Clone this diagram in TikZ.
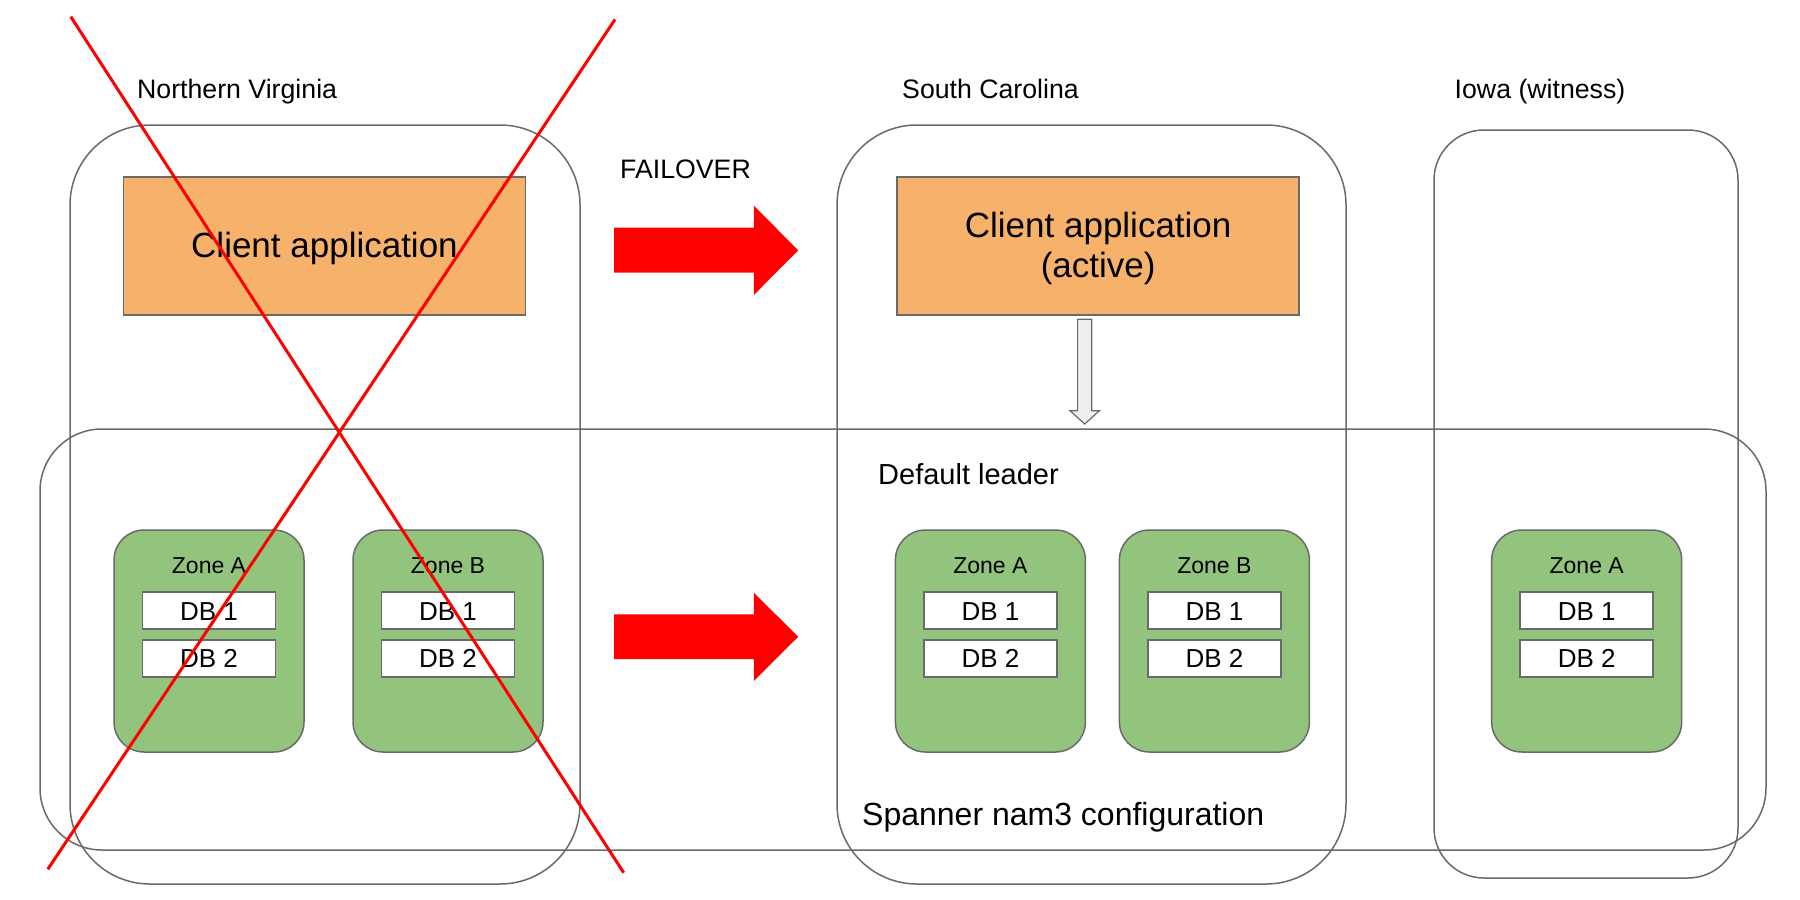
\documentclass[tikz,border=0pt]{standalone}
\usepackage{fontspec}
\setmainfont{Liberation Sans}
\definecolor{linegray}{HTML}{6A6A6A}
\definecolor{apporange}{HTML}{F6B26B}
\definecolor{zonegreen}{HTML}{93C47D}
\definecolor{arrowgray}{HTML}{EEEEEE}
\definecolor{xred}{HTML}{FF0000}
\begin{document}
\begin{tikzpicture}[x=1pt,y=-1pt,
  region/.style={draw=linegray, line width=1.5pt, rounded corners=#1, inner sep=0pt},
  region/.default=80pt,
  appbox/.style={draw=linegray, line width=1.5pt, fill=apporange, inner sep=0pt,
     minimum width=402pt, minimum height=138pt},
  zonebox/.style={draw=linegray, line width=1.5pt, fill=zonegreen, rounded corners=30pt,
     minimum width=190pt, minimum height=222pt, inner sep=0pt},
  dbbox/.style={draw=linegray, line width=1.5pt, fill=white, minimum width=133pt,
     minimum height=37pt, inner sep=0pt, text height=18.6pt, text depth=0pt,
     font=\fontsize{26pt}{31pt}\selectfont},
  ztext/.style={anchor=base, inner sep=0pt, font=\fontsize{23pt}{28pt}\selectfont},
  lbl/.style={anchor=base west, inner sep=0pt, font=\fontsize{26.7pt}{31pt}\selectfont},
  apptext/.style={anchor=base, inner sep=0pt, font=\fontsize{35pt}{40pt}\selectfont},
  bigarrow/.style={fill=xred, draw=none},
  crossline/.style={draw=xred, line width=3pt}
]
\useasboundingbox (0,0) rectangle (1800,900);
\fill[white] (0,0) rectangle (1800,900);

% region boxes
\node[region=62pt, minimum width=1726pt, minimum height=421pt] (sp) at (903,639.5) {};
\node[region, minimum width=510pt, minimum height=759pt] (nv) at (325,504.5) {};
\node[region, minimum width=509pt, minimum height=759pt] (sc) at (1091.5,504.5) {};
\node[region=50pt, minimum width=304pt, minimum height=748pt] (ia) at (1586,504) {};

% region labels
\node[lbl] (nvlbl) at (137,98) {Northern Virginia};
\node[lbl] (sclbl) at (902,98) {South Carolina};
\node[lbl] (ialbl) at (1454.5,98) {Iowa (witness)};
\node[lbl] (fail) at (620,178) {FAILOVER};
\node[lbl, font=\fontsize{29pt}{33pt}\selectfont] (dl) at (878,484.3) {Default leader};
\node[lbl, font=\fontsize{32pt}{36pt}\selectfont] (spl) at (862,825) {Spanner nam3 configuration};

% client applications
\node[appbox] (nvapp) at (324.5,245.85) {};
\node[apptext] (nvapptxt) at (324.5,257) {Client application};
\node[appbox] (scapp) at (1098.2,245.85) {};
\node[apptext] (scapptxt1) at (1098.2,237) {Client application};
\node[apptext] (scapptxt2) at (1098.2,277) {(active)};

% zones
\foreach \n/\x/\z in {nva/209/Zone A, nvb/448/Zone B, sca/990.4/Zone A, scb/1214.4/Zone B, iaa/1586.7/Zone A}{
  \node[zonebox] (\n) at (\x,641) {};
  \node[ztext] (\n lbl) at (\x,573.3) {\z};
  \node[dbbox] (\n db1) at (\x,610.7) {DB 1};
  \node[dbbox] (\n db2) at (\x,658.4) {DB 2};
}

% failover arrows
\fill[bigarrow] (614,227.7) -- (753.8,227.7) -- (753.8,205.7) -- (798.2,250.3)
   -- (753.8,295) -- (753.8,272.7) -- (614,272.7) -- cycle;
\fill[bigarrow] (614,614.3) -- (753.8,614.3) -- (753.8,592.7) -- (798.2,636.8)
   -- (753.8,681) -- (753.8,659) -- (614,659) -- cycle;

% small gray arrow from active client down to the configuration
\draw[linegray, line width=1.2pt, fill=arrowgray, line join=miter]
   (1077.6,319.3) -- (1091.8,319.3) -- (1091.8,410.7) -- (1099.4,410.7)
   -- (1084.7,424) -- (1070,410.7) -- (1077.6,410.7) -- cycle;

% red cross
\coordinate (xa) at (70.8,16.7);
\coordinate (xb) at (623.7,872.7);
\coordinate (xc) at (47.8,869.3);
\coordinate (xd) at (615,19.5);
\draw[crossline] (xa) -- (xb);
\draw[crossline] (xc) -- (xd);
\end{tikzpicture}
\end{document}
